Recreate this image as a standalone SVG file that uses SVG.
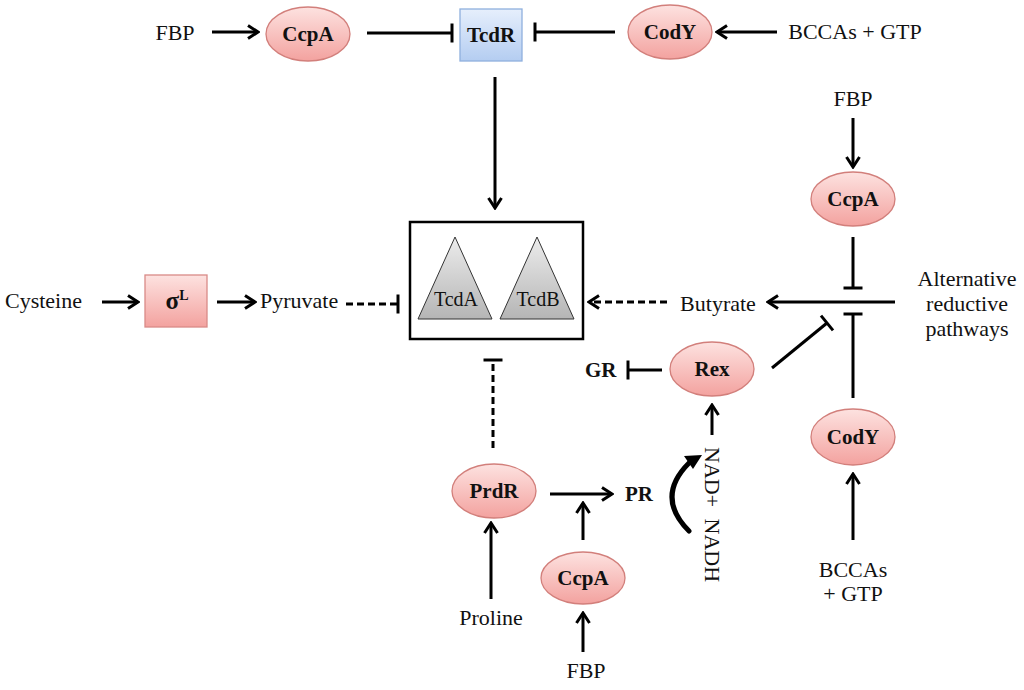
<svg xmlns="http://www.w3.org/2000/svg" width="1024" height="690" viewBox="0 0 1024 690" font-family="'Liberation Serif', 'Times New Roman', serif">
<style>
text{font-family:"Liberation Serif","Times New Roman",serif;fill:#111}
.t{font-size:22px}
.b{font-size:21px;font-weight:bold}
.c{text-anchor:middle}
.node{fill:url(#pink);stroke:#d27f7b;stroke-width:1.3}
.ln{stroke:#000;stroke-width:3;fill:none}
.dash{stroke-dasharray:7,4}
.arr{marker-end:url(#arrow)}
.inh{marker-end:url(#bar)}
</style>
<defs>
<linearGradient id="pink" x1="0" y1="0" x2="0" y2="1">
<stop offset="0" stop-color="#fde2e0"/><stop offset="1" stop-color="#f3a29f"/>
</linearGradient>
<linearGradient id="blue" x1="0" y1="0" x2="0" y2="1">
<stop offset="0" stop-color="#e6effc"/><stop offset="1" stop-color="#b4cdf1"/>
</linearGradient>
<linearGradient id="grey" x1="0" y1="0" x2="0" y2="1">
<stop offset="0" stop-color="#ececec"/><stop offset="1" stop-color="#b5b5b5"/>
</linearGradient>
<marker id="arrow" markerUnits="userSpaceOnUse" viewBox="-13 -9 15 18" markerWidth="15" markerHeight="18" refX="0" refY="0" orient="auto">
<path d="M-10,-6.5 L0,0 L-10,6.5" fill="none" stroke="#000" stroke-width="3"/>
</marker>
<marker id="bar" markerUnits="userSpaceOnUse" viewBox="-2 -11 4 22" markerWidth="4" markerHeight="22" refX="0" refY="0" orient="auto">
<path d="M0,-9.5 V9.5" stroke="#000" stroke-width="3"/>
</marker>
</defs>

<g id="connectors">
<line class="ln arr" x1="212" y1="32" x2="258" y2="32"/>
<line class="ln inh" x1="367" y1="33" x2="452" y2="33"/>
<line class="ln inh" x1="615" y1="32" x2="535" y2="32"/>
<line class="ln arr" x1="777" y1="32" x2="717" y2="32"/>
<line class="ln arr" x1="495" y1="77" x2="495" y2="208"/>
<line class="ln arr" x1="102" y1="302" x2="138" y2="302"/>
<line class="ln arr" x1="217" y1="302" x2="255" y2="302"/>
<line class="ln dash inh" x1="346" y1="304" x2="398" y2="304"/>
<line class="ln dash arr" x1="667" y1="302" x2="589" y2="302"/>
<line class="ln arr" x1="895" y1="302" x2="768" y2="302"/>
<line class="ln inh" x1="853" y1="237" x2="853" y2="288"/>
<line class="ln inh" x1="853" y1="398" x2="853" y2="314"/>
<line class="ln inh" x1="772" y1="368" x2="827" y2="323"/>
<line class="ln inh" x1="662" y1="370" x2="628" y2="370"/>
<line class="ln arr" x1="712" y1="435" x2="712" y2="405"/>
<path d="M689,531 Q655,497 689,463" fill="none" stroke="#000" stroke-width="5" stroke-linecap="round"/>
<path d="M702,455 L684,456 L693,469 Z" fill="#000"/>
<line class="ln dash inh" x1="493" y1="448" x2="493" y2="360"/>
<line class="ln arr" x1="550" y1="494" x2="612" y2="494"/>
<line class="ln arr" x1="583" y1="540" x2="583" y2="503"/>
<line class="ln arr" x1="583" y1="652" x2="583" y2="613"/>
<line class="ln arr" x1="491" y1="599" x2="491" y2="523"/>
<line class="ln arr" x1="853" y1="118" x2="853" y2="167"/>
<line class="ln arr" x1="853" y1="540" x2="853" y2="474"/>
</g>

<g id="fbp-top"><text class="t c" x="175" y="40">FBP</text></g>
<g id="ccpa-top"><ellipse class="node" cx="308" cy="34" rx="42" ry="27"/><text class="b c" x="308" y="41">CcpA</text></g>
<g id="tcdr"><rect x="460" y="9" width="62" height="52" fill="url(#blue)" stroke="#8fb0de" stroke-width="1.3"/><text class="b c" x="491" y="42">TcdR</text></g>
<g id="cody-top"><ellipse class="node" cx="670" cy="32" rx="42" ry="27"/><text class="b c" x="670" y="39">CodY</text></g>
<g id="bccas-top"><text class="t c" x="855" y="39">BCCAs + GTP</text></g>

<g id="toxins">
<rect x="410" y="222" width="173" height="117" fill="#fff" stroke="#000" stroke-width="2.5"/>
<polygon points="455,237 418,319 492,319" fill="url(#grey)" stroke="#333" stroke-width="1"/>
<polygon points="537,237 500,319 574,319" fill="url(#grey)" stroke="#333" stroke-width="1"/>
<text class="t c" x="456" y="306" style="font-size:20px">TcdA</text>
<text class="t c" x="538" y="306" style="font-size:20px">TcdB</text>
</g>

<g id="cysteine"><text class="t" x="5" y="308">Cysteine</text></g>
<g id="sigmaL"><rect x="145" y="275" width="62" height="52" fill="url(#pink)" stroke="#d98a87" stroke-width="1.3"/><text x="177" y="309" style="font-size:25px;font-weight:bold" text-anchor="middle">σ<tspan dy="-9" style="font-size:14px">L</tspan></text></g>
<g id="pyruvate"><text class="t" x="260" y="308">Pyruvate</text></g>
<g id="butyrate"><text class="t c" x="718" y="311">Butyrate</text></g>
<g id="alt"><text class="t c" x="967" y="286">Alternative</text><text class="t c" x="967" y="311">reductive</text><text class="t c" x="967" y="336">pathways</text></g>

<g id="fbp-right"><text class="t c" x="853" y="106">FBP</text></g>
<g id="ccpa-right"><ellipse class="node" cx="853" cy="199" rx="42" ry="27"/><text class="b c" x="853" y="206">CcpA</text></g>
<g id="cody-right"><ellipse class="node" cx="853" cy="437" rx="42" ry="28"/><text class="b c" x="853" y="444">CodY</text></g>
<g id="bccas-right"><text class="t c" x="853" y="577">BCCAs</text><text class="t c" x="853" y="601">+ GTP</text></g>

<g id="rex"><ellipse class="node" cx="712" cy="369" rx="42" ry="27"/><text class="b c" x="712" y="376">Rex</text></g>
<g id="gr"><text class="b" x="585" y="377">GR</text></g>
<g id="nad"><text class="t" transform="translate(705,447) rotate(90)" x="0" y="0" word-spacing="6">NAD+ NADH</text></g>

<g id="prdr"><ellipse class="node" cx="494" cy="491" rx="42" ry="27"/><text class="b c" x="494" y="498">PrdR</text></g>
<g id="pr"><text class="b" x="625" y="501">PR</text></g>
<g id="ccpa-bottom"><ellipse class="node" cx="583" cy="578" rx="42" ry="26"/><text class="b c" x="583" y="585">CcpA</text></g>
<g id="proline"><text class="t c" x="491" y="625">Proline</text></g>
<g id="fbp-bottom"><text class="t c" x="586" y="678">FBP</text></g>
</svg>
